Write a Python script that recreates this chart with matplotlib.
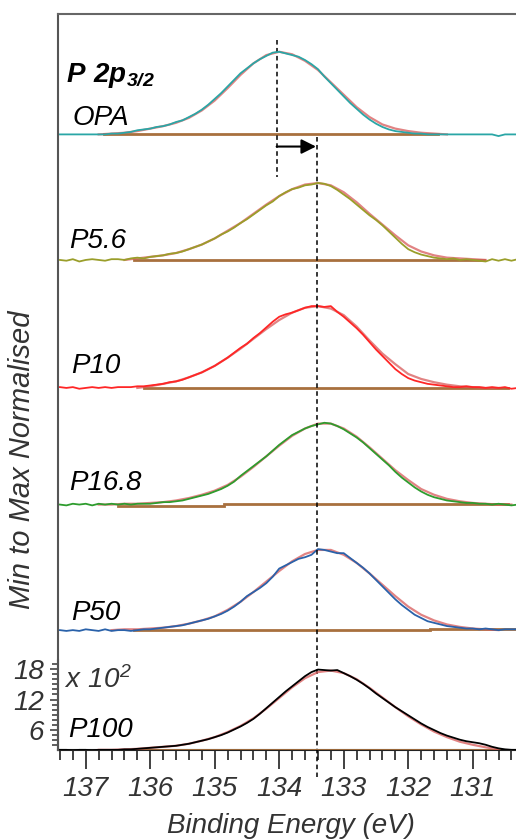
import numpy as np
import matplotlib.pyplot as plt
from matplotlib.ticker import MultipleLocator

plt.rcParams['font.family'] = ['Liberation Sans', 'DejaVu Sans']
plt.rcParams['font.style'] = 'italic'
plt.rcParams['mathtext.fontset'] = 'custom'
plt.rcParams['mathtext.bf'] = 'Liberation Sans:italic:bold'
plt.rcParams['mathtext.sf'] = 'Liberation Sans:italic'

# binding energy of the measured spectra, 137.4 -> 130.3 eV in 0.1 eV steps
energy = np.round(np.arange(137.4, 130.25, -0.1), 1)

# min-to-max normalised spectra
opa = [0, 0, 0, 0, 0, 0, 0, 0,
       0.01, 0.01, 0.02, 0.03, 0.05, 0.06, 0.07,
       0.09, 0.10, 0.12, 0.15, 0.17, 0.21, 0.25, 0.30, 0.36, 0.43,
       0.50, 0.58, 0.66, 0.74, 0.80, 0.86, 0.91, 0.95, 0.99, 1.00,
       0.98, 0.96, 0.94, 0.90, 0.85, 0.79, 0.70, 0.62, 0.54, 0.46,
       0.38, 0.31, 0.24, 0.18, 0.13, 0.09, 0.06, 0.04, 0.03, 0.02,
       0.01, 0.01, 0, 0, 0, 0, 0, 0, 0, 0,
       0, 0, 0, -0.02, 0, 0, 0]
p5_6 = [0.00, -0.01, 0.01, -0.02, 0.00,
        0.01, 0.00, -0.01, 0.01, 0.01, 0.00, 0.02, 0.03, 0.02, 0.04,
        0.05, 0.06, 0.08, 0.09, 0.11, 0.14, 0.17, 0.20, 0.24, 0.28,
        0.33, 0.37, 0.42, 0.48, 0.53, 0.59, 0.65, 0.71, 0.76, 0.83,
        0.88, 0.92, 0.94, 0.97, 0.98, 1.00, 0.99, 0.96, 0.91, 0.85,
        0.79, 0.72, 0.65, 0.58, 0.52, 0.45, 0.37, 0.29, 0.21, 0.14,
        0.10, 0.07, 0.05, 0.03, 0.02, 0.01, 0.02, 0.00, 0.01, 0.00,
        -0.01, -0.02, 0.01, -0.01, 0.01, -0.01, 0.01]
p10 = [0.01, 0.00, 0.01, -0.01, 0.00,
       0.01, 0.00, 0.01, 0.00, 0.01, 0.01, 0.01, 0.02, 0.02, 0.03,
       0.04, 0.05, 0.07, 0.08, 0.10, 0.13, 0.16, 0.19, 0.23, 0.27,
       0.32, 0.37, 0.43, 0.49, 0.54, 0.61, 0.67, 0.74, 0.81, 0.87,
       0.90, 0.92, 0.95, 0.98, 1.00, 1.00, 0.99, 1.00, 0.93, 0.87,
       0.80, 0.73, 0.65, 0.56, 0.47, 0.39, 0.31, 0.23, 0.17, 0.12,
       0.09, 0.07, 0.05, 0.04, 0.03, 0.02, 0.01, 0.01, 0.02, 0.01,
       0.01, 0.00, 0.01, 0.00, 0.01, -0.01, 0.00]
p16_8 = [0.00, -0.01, 0.01, 0.00, 0.01,
         -0.01, 0.01, 0.00, 0.01, 0.00, 0.01, 0.00, 0.01, 0.01, 0.01,
         0.02, 0.03, 0.03, 0.04, 0.05, 0.07, 0.09, 0.11, 0.13, 0.16,
         0.19, 0.23, 0.28, 0.35, 0.41, 0.47, 0.53, 0.59, 0.66, 0.73,
         0.79, 0.85, 0.89, 0.93, 0.96, 0.98, 1.00, 0.99, 0.96, 0.92,
         0.87, 0.82, 0.76, 0.69, 0.62, 0.55, 0.48, 0.40, 0.33, 0.27,
         0.21, 0.16, 0.12, 0.09, 0.07, 0.05, 0.04, 0.03, 0.02, 0.02,
         0.01, 0.01, 0.00, 0.01, 0.00, -0.01, 0.00]
p50 = [0.00, -0.01, 0.00, -0.01, 0.01,
       0.00, -0.01, 0.01, -0.01, 0.00, 0.00, -0.01, 0.00, 0.01, 0.01,
       0.02, 0.03, 0.04, 0.05, 0.06, 0.08, 0.10, 0.12, 0.14, 0.17,
       0.20, 0.24, 0.29, 0.35, 0.42, 0.47, 0.52, 0.58, 0.66, 0.76,
       0.80, 0.84, 0.88, 0.90, 0.93, 1.00, 0.99, 0.97, 0.95, 0.95,
       0.89, 0.83, 0.77, 0.70, 0.62, 0.54, 0.46, 0.38, 0.31, 0.25,
       0.19, 0.15, 0.11, 0.09, 0.07, 0.05, 0.04, 0.03, 0.02, 0.02,
       0.01, 0.02, 0.01, 0.00, 0.01, 0.01, 0.01]
# P100 is shown in counts (x 10^2)
p100 = [2.1, 2.1, 2.0, 2.1, 2.1,
        2.0, 2.1, 2.1, 2.1, 2.1, 2.2, 2.2, 2.3, 2.4, 2.5,
        2.6, 2.7, 2.8, 2.9, 3.1, 3.3, 3.6, 3.9, 4.2, 4.6,
        5.0, 5.5, 6.1, 6.7, 7.4, 8.2, 9.2, 10.3, 11.4, 12.5,
        13.6, 14.6, 15.6, 16.6, 17.4, 17.9, 17.8, 17.7, 17.8, 17.2,
        16.6, 15.9, 15.1, 14.2, 13.2, 12.3, 11.4, 10.5, 9.7, 8.9,
        8.1, 7.3, 6.6, 6.0, 5.4, 4.9, 4.5, 4.1, 3.8, 3.6,
        3.4, 3.1, 2.7, 2.4, 2.2, 2.1, 2.1]

# peak fits, 0.2 eV steps between the given start / end energies
opa_fit = [0.00, 0.01, 0.02, 0.04, 0.07, 0.10, 0.14, 0.20, 0.29, 0.41,
           0.56, 0.72, 0.86, 0.96, 1.00, 0.97, 0.89, 0.78, 0.63, 0.48,
           0.33, 0.21, 0.12, 0.07, 0.04, 0.02, 0.01, 0.00]
p5_6_fit = [0.00, 0.02, 0.04, 0.06, 0.09, 0.14, 0.20, 0.28, 0.38, 0.48,
            0.60, 0.72, 0.83, 0.92, 0.98, 1.00, 0.97, 0.88, 0.75, 0.60,
            0.46, 0.32, 0.19, 0.11, 0.06, 0.03, 0.02, 0.01, 0.00]
p10_fit = [0.00, 0.02, 0.05, 0.08, 0.13, 0.19, 0.27, 0.37, 0.48, 0.60,
           0.72, 0.83, 0.92, 0.98, 1.00, 0.97, 0.89, 0.75, 0.58, 0.42,
           0.29, 0.17, 0.11, 0.07, 0.04, 0.02, 0.01, 0.00, 0.00]
p16_8_fit = [0.00, 0.00, 0.01, 0.01, 0.02, 0.03, 0.05, 0.08, 0.12, 0.17,
             0.24, 0.34, 0.46, 0.59, 0.72, 0.84, 0.93, 0.99, 0.99, 0.93,
             0.83, 0.70, 0.56, 0.42, 0.30, 0.19, 0.12, 0.07, 0.04, 0.02,
             0.01, 0.00, 0.00]
p50_fit = [0.00, 0.01, 0.01, 0.02, 0.03, 0.05, 0.08, 0.12, 0.17, 0.25,
           0.35, 0.47, 0.60, 0.73, 0.85, 0.94, 0.99, 0.99, 0.93, 0.83,
           0.70, 0.56, 0.42, 0.29, 0.19, 0.12, 0.07, 0.04, 0.02, 0.01, 0.00]
p100_fit = [2.1, 2.1, 2.2, 2.3, 2.5, 2.7, 2.9, 3.3, 3.9, 4.6,
            5.6, 6.8, 8.3, 10.2, 12.3, 14.4, 16.2, 17.4, 17.7, 17.2,
            16.0, 14.3, 12.4, 10.5, 8.7, 7.1, 5.7, 4.6, 3.7, 3.1,
            2.6, 2.2]
fit_start = [136.8, 136.4, 136.2, 136.8, 136.6, 136.8]
fit_end = [131.4, 130.8, 130.6, 130.4, 130.6, 130.6]

# backgrounds: (from eV, to eV, level)
opa_bg = [(136.71, 131.54, 0.0)]
p5_6_bg = [(136.25, 130.82, 0.0)]
p10_bg = [(136.09, 130.46, 0.0)]
p16_8_bg = [(136.50, 134.85, -0.02), (134.85, 130.46, 0.01)]
p50_bg = [(136.25, 131.67, 0.0), (131.67, 130.33, 0.02)]
p100_bg = [(136.8, 130.6, 2.1)]

names = ['OPA', 'P5.6', 'P10', 'P16.8', 'P50', 'P100']
spectra = [opa, p5_6, p10, p16_8, p50, p100]
fits = [opa_fit, p5_6_fit, p10_fit, p16_8_fit, p50_fit, p100_fit]
backgrounds = [opa_bg, p5_6_bg, p10_bg, p16_8_bg, p50_bg, p100_bg]
colors = ['#2aa6a6', '#9a9e2a', '#ff2626', '#2e9c2e', '#2a62aa', 'black']

# stacking of the normalised traces (1 unit = one peak height)
offsets = [7.60, 6.05, 4.47, 3.03, 1.48]
scales = [1.02, 0.95, 1.01, 1.01, 1.0]
label_y = [7.72, 6.20, 4.65, 3.21, 1.61, 0.16]
label_x = [137.20, 137.25, 137.23, 137.25, 137.23, 137.28]

fit_color = '#d85a5a'
bg_color = '#a8703e'

fig = plt.figure(figsize=(5.16, 8.39), dpi=100)
ax = fig.add_axes([58/516, 89/839, 466/516, 736/839])
ax.set_xlim(137.43, 130.205)
ax.set_ylim(0, 736/81)

for i in range(5):
    off, sc = offsets[i], scales[i]
    for a, b, lev in backgrounds[i]:
        ax.plot([a, b], [off + sc*lev, off + sc*lev], color=bg_color, lw=2, zorder=1)
    e_fit = np.linspace(fit_start[i], fit_end[i], len(fits[i]))
    ax.plot(e_fit, off + sc*np.array(fits[i]), color=fit_color, lw=1.6, alpha=0.75, zorder=2)
    ax.plot(energy, off + sc*np.array(spectra[i]), color=colors[i], lw=1.3, zorder=3)

# bottom trace in its own count scale
ax2 = fig.add_axes([58/516, 89/839, 466/516, 90/839])
ax2.set_xlim(137.43, 130.205)
ax2.set_ylim(2.07, 19.78)
ax2.patch.set_alpha(0)
for a, b, lev in p100_bg:
    ax2.plot([a, b], [lev, lev], color=bg_color, lw=2, zorder=1)
e_fit = np.linspace(fit_start[5], fit_end[5], len(p100_fit))
ax2.plot(e_fit, p100_fit, color=fit_color, lw=1.6, alpha=0.75, zorder=2)
ax2.plot(energy, p100, color='black', lw=1.3, zorder=3)

for s in ['top', 'right', 'bottom']:
    ax2.spines[s].set_visible(False)
ax2.spines['left'].set_color('#555555')
ax2.spines['left'].set_linewidth(1.5)
ax2.set_xticks([])
ax2.set_yticks([6, 12, 18])
ax2.yaxis.set_minor_locator(MultipleLocator(1))
ax2.tick_params(axis='y', which='major', direction='out', length=6, width=1.2,
                colors='#444444', labelcolor='#333333', labelsize=20, pad=4)
ax2.tick_params(axis='y', which='minor', direction='out', length=4, width=1.2,
                colors='#444444')

# labels of the traces
for i in range(6):
    ax.text(label_x[i], label_y[i], names[i], fontsize=20, color='black', va='baseline')
ax.text(137.31, 8.25, r'$\mathbf{P\ 2p_{3/2}}$', fontsize=20, va='baseline')
ax.text(137.33, 0.77, r'$\mathsf{x\ 10^{2}}$', fontsize=20, color='#333333', va='baseline')

# peak shift markers
ax.plot([134.04, 134.04], [8.77, 7.07], color='black', lw=1.1, dashes=(3, 2.2))
ax.plot([133.42, 133.42], [7.57, -0.33], color='black', lw=1.1, dashes=(3, 2.2),
        clip_on=False, zorder=5)
ax.annotate('', xy=(133.43, 7.45), xytext=(134.04, 7.45),
            arrowprops=dict(arrowstyle='-|>', color='black', lw=1.5, mutation_scale=22,
                            shrinkA=0, shrinkB=0))

ax.set_yticks([])
ax.xaxis.set_major_locator(MultipleLocator(1))
ax.xaxis.set_minor_locator(MultipleLocator(0.2))
ax.tick_params(axis='x', which='major', direction='out', length=14, width=1.3,
               colors='#333333', labelsize=20, pad=5)
ax.tick_params(axis='x', which='minor', direction='out', length=7, width=1.3,
               colors='#333333')
ax.spines['right'].set_visible(False)
ax.spines['top'].set_color('#666666')
ax.spines['left'].set_color('#555555')
ax.spines['bottom'].set_color('#222222')
for s in ['top', 'left', 'bottom']:
    ax.spines[s].set_linewidth(1.5)

ax.set_xlabel('Binding Energy (eV)', fontsize=20, color='#333333')
ax.xaxis.set_label_coords(0.5, -0.085)
ax.set_ylabel('Min to Max Normalised', fontsize=21, color='#333333')
ax.yaxis.set_label_coords(-0.047, 0.394)

fig.savefig('out.png', dpi=100)
